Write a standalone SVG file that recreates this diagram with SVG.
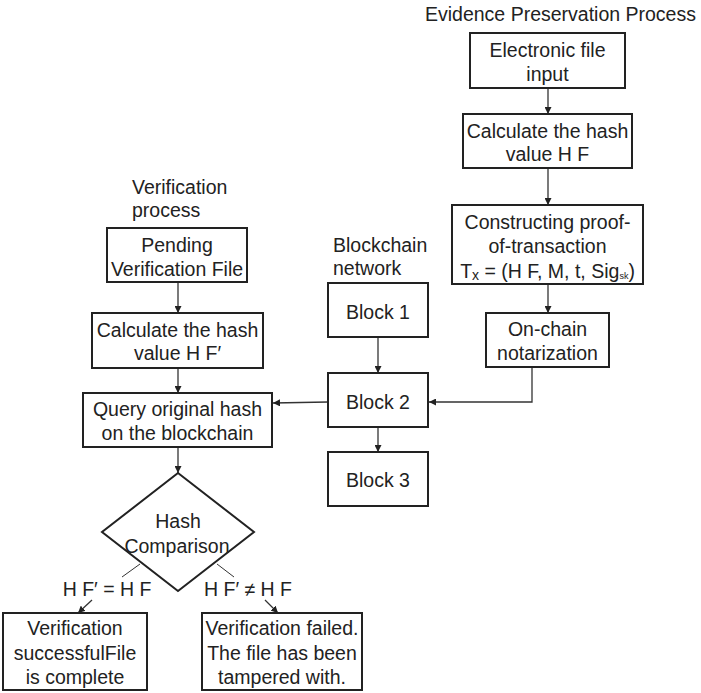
<svg xmlns="http://www.w3.org/2000/svg" width="701" height="693" viewBox="0 0 701 693">
<style>
text{font-family:"Liberation Sans",Arial,sans-serif;font-size:19.5px;fill:#222}
.c{text-anchor:middle}
.box{fill:#fff;stroke:#222;stroke-width:2}
.ln{fill:none;stroke:#333;stroke-width:1.3}
.thin{fill:none;stroke:#333;stroke-width:1}
</style>
<defs>
<marker id="ah" viewBox="0 0 10 10" refX="10" refY="5" markerWidth="7" markerHeight="7" markerUnits="userSpaceOnUse" orient="auto">
<path d="M0,0L10,5L0,10z" fill="#222"/>
</marker>
</defs>
<rect width="701" height="693" fill="#fff"/>
<text x="425" y="21">Evidence Preservation Process</text>
<text x="132" y="194">Verification</text>
<text x="132" y="217">process</text>
<text x="333" y="252">Blockchain</text>
<text x="333" y="275">network</text>

<g id="connectors">
<line class="ln" x1="548" y1="88" x2="548" y2="114" marker-end="url(#ah)"/>
<line class="ln" x1="548" y1="168" x2="548" y2="205" marker-end="url(#ah)"/>
<line class="ln" x1="548" y1="284" x2="548" y2="313" marker-end="url(#ah)"/>
<polyline class="ln" points="532,367 532,402 429,402" marker-end="url(#ah)"/>
<line class="ln" x1="378" y1="337" x2="378" y2="373" marker-end="url(#ah)"/>
<line class="ln" x1="378" y1="427" x2="378" y2="452" marker-end="url(#ah)"/>
<line class="ln" x1="328" y1="402" x2="273" y2="403" marker-end="url(#ah)"/>
<line class="ln" x1="178" y1="282" x2="178" y2="313" marker-end="url(#ah)"/>
<line class="ln" x1="178" y1="368" x2="178" y2="393" marker-end="url(#ah)"/>
<line class="ln" x1="178" y1="447" x2="178" y2="473" marker-end="url(#ah)"/>
<line class="thin" x1="140" y1="564" x2="122" y2="577"/>
<line class="thin" x1="217" y1="564" x2="234" y2="577"/>
<line class="ln" x1="92" y1="600" x2="78" y2="613" marker-end="url(#ah)"/>
<line class="ln" x1="265" y1="600" x2="278" y2="613" marker-end="url(#ah)"/>
</g>

<g id="n-input">
<rect class="box" x="470" y="33" width="155" height="55"/>
<text class="c" x="547.5" y="57">Electronic file</text>
<text class="c" x="547.5" y="81">input</text>
</g>
<g id="n-hash">
<rect class="box" x="463" y="114" width="169" height="54"/>
<text class="c" x="547.5" y="138">Calculate the hash</text>
<text class="c" x="547.5" y="161">value H F</text>
</g>
<g id="n-construct">
<rect class="box" x="452" y="205" width="191" height="79"/>
<text class="c" x="547.5" y="229">Constructing proof-</text>
<text class="c" x="547.5" y="253">of-transaction</text>
<text class="c" x="547.5" y="278">T<tspan font-size="14" dy="2">x</tspan><tspan dy="-2"> = (H F, M, t, Sig</tspan><tspan font-size="9" dy="1">sk</tspan><tspan dy="-1">)</tspan></text>
</g>
<g id="n-onchain">
<rect class="box" x="486" y="313" width="123" height="54"/>
<text class="c" x="547.5" y="336">On-chain</text>
<text class="c" x="547.5" y="360">notarization</text>
</g>
<g id="n-block1">
<rect class="box" x="328" y="283" width="100" height="54"/>
<text class="c" x="378" y="319">Block 1</text>
</g>
<g id="n-block2">
<rect class="box" x="328" y="373" width="100" height="54"/>
<text class="c" x="378" y="409">Block 2</text>
</g>
<g id="n-block3">
<rect class="box" x="328" y="452" width="100" height="54"/>
<text class="c" x="378" y="487">Block 3</text>
</g>
<g id="n-pending">
<rect class="box" x="107" y="228" width="140" height="54"/>
<text class="c" x="177" y="252">Pending</text>
<text class="c" x="177" y="276">Verification File</text>
</g>
<g id="n-hash2">
<rect class="box" x="92" y="313" width="171" height="55"/>
<text class="c" x="177.5" y="337">Calculate the hash</text>
<text class="c" x="177.5" y="360">value H F′</text>
</g>
<g id="n-query">
<rect class="box" x="83" y="393" width="189" height="54"/>
<text class="c" x="177.5" y="416">Query original hash</text>
<text class="c" x="177.5" y="440">on the blockchain</text>
</g>
<g id="n-compare">
<polygon class="box" points="178,473 254,532 178,591 102,532"/>
<text class="c" x="178" y="528">Hash</text>
<text class="c" x="177" y="553">Comparison</text>
</g>
<text class="c" x="107" y="596">H F′ = H F</text>
<text class="c" x="248" y="596">H F′ ≠ H F</text>
<g id="n-success">
<rect class="box" x="3" y="613" width="144" height="77"/>
<text class="c" x="75" y="635">Verification</text>
<text class="c" x="75" y="660">successfulFile</text>
<text class="c" x="75" y="684">is complete</text>
</g>
<g id="n-failed">
<rect class="box" x="202" y="613" width="160" height="77"/>
<text class="c" x="282" y="635">Verification failed.</text>
<text class="c" x="282" y="660">The file has been</text>
<text class="c" x="282" y="684">tampered with.</text>
</g>
</svg>
